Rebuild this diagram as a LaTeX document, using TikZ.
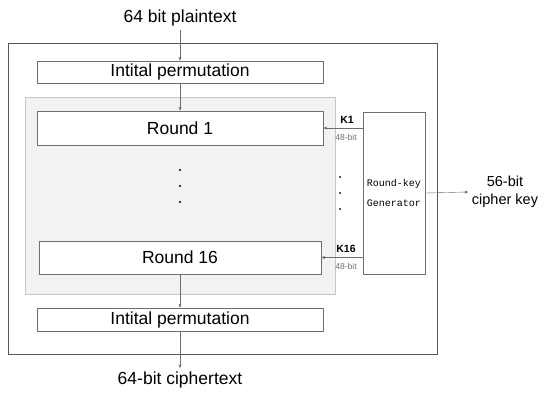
\documentclass[tikz,border=0pt]{standalone}
\usepackage{fontspec}
\setmainfont{Liberation Sans}
\setmonofont{Liberation Mono}
\usetikzlibrary{arrows.meta,shadows}
\definecolor{edgegray}{HTML}{6E6E6E}
\definecolor{panelgray}{HTML}{F3F2F2}
\tikzset{
  blockbox/.style={draw=edgegray, fill=white, minimum width=286pt, minimum height=22pt, inner sep=0pt, font=\fontsize{17.5}{20}\selectfont},
  flow/.style={draw=edgegray, -{Stealth[length=4pt,width=3pt]}},
  keylabel/.style={font=\fontsize{10.5}{12}\selectfont\bfseries, inner sep=0pt},
  bitlabel/.style={font=\fontsize{8.5}{10}\selectfont, text=edgegray, inner sep=0pt},
}
\begin{document}
\begin{tikzpicture}[x=1pt, y=-1pt]
  \useasboundingbox (0,0) rectangle (555,401);
  % frames
  \draw[edgegray!80!black, thick, drop shadow={shadow xshift=1pt, shadow yshift=-1pt, opacity=.3}, fill=white] (8,43) rectangle (437,354);
  \draw[gray!45, fill=panelgray] (25,97) rectangle (335,294);
  % blocks
  \node[font=\fontsize{17.5}{20}\selectfont] (plain) at (180,18) {64 bit plaintext};
  \node[blockbox] (ipA) at (180,72) {Intital permutation};
  \node[blockbox, minimum height=34pt] (rA) at (180,128) {Round 1};
  \node[blockbox, minimum width=282pt, minimum height=33pt] (rB) at (180,257.5) {Round 16};
  \node[blockbox, minimum height=23pt] (ipB) at (180,319.5) {Intital permutation};
  \node[font=\fontsize{17.5}{20}\selectfont] (cipher) at (180,380) {64-bit ciphertext};
  \node[draw=edgegray, fill=white, minimum width=62pt, minimum height=162pt, inner sep=0pt, align=center, font=\ttfamily\fontsize{10}{20}\selectfont] (gen) at (394,193) {Round-key\\Generator};
  \node[align=center, font=\fontsize{14.5}{18}\selectfont] (key) at (505,192) {56-bit\\cipher key};
  % key labels
  \node[keylabel] (kA) at (347,120) {K1};
  \node[bitlabel] (bA) at (346,137.5) {48-bit};
  \node[keylabel] (kB) at (346,249) {K16};
  \node[bitlabel] (bB) at (346,266.5) {48-bit};
  % arrows
  \draw[flow] (plain) -- (ipA);
  \draw[flow] (ipA) -- (rA);
  \draw[flow] (rB) -- (ipB);
  \draw[flow] (ipB) -- (cipher);
  \draw[flow] (gen.west |- rA) -- (rA.east);
  \draw[flow] (gen.west |- rB) -- (rB.east);
  \draw[flow] (gen.east) -- (key.west);
  % dots
  \foreach \y in {170,186,202} \fill (180,\y) circle (1.1pt);
  \foreach \y in {177,193,209} \fill (340,\y) circle (1pt);
\end{tikzpicture}
\end{document}
